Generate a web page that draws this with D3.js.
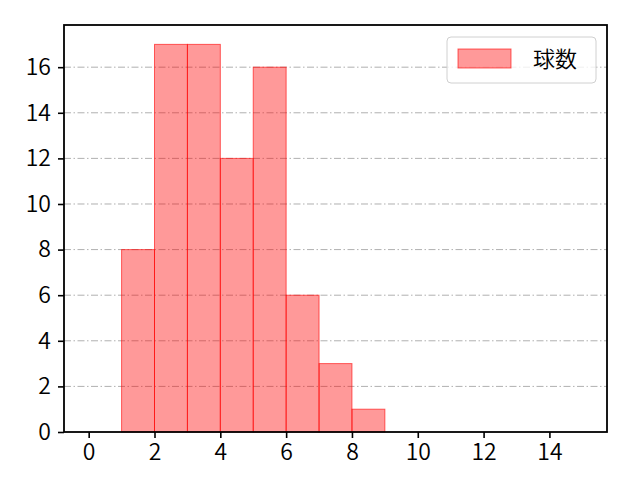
<!DOCTYPE html>
<html>
<head>
<meta charset="utf-8">
<script src="https://cdn.jsdelivr.net/npm/d3@7"></script>
<style>
  body { margin: 0; background: #fff; }
</style>
</head>
<body>
<div id="chart"></div>
<script>
// histogram bins (left edge) and counts
const binStarts = [1, 2, 3, 4, 5, 6, 7, 8];
const binWidth = 1;
const counts = [8, 17, 17, 12, 16, 6, 3, 1];
const xTicks = [0, 2, 4, 6, 8, 10, 12, 14];
const yTicks = [0, 2, 4, 6, 8, 10, 12, 14, 16];
const seriesName = "球数";

const FONT = "'Noto Sans CJK JP', 'Noto Sans', sans-serif";

const width = 640, height = 480;
const margin = {top: 25, right: 33, bottom: 48, left: 64};
const w = width - margin.left - margin.right;
const h = height - margin.top - margin.bottom;

const svg = d3.select("#chart").append("svg")
    .attr("width", width)
    .attr("height", height);

const g = svg.append("g")
    .attr("transform", `translate(${margin.left},${margin.top})`);

const x = d3.scaleLinear().domain([-0.75, 15.75]).range([0, w]);
const y = d3.scaleLinear().domain([0, 17.85]).range([h, 0]);

// grid (horizontal only)
g.append("g")
    .selectAll("line")
    .data(yTicks.filter(t => t > 0))
    .enter()
    .append("line")
    .attr("x1", 0)
    .attr("x2", w)
    .attr("y1", d => y(d))
    .attr("y2", d => y(d))
    .attr("stroke", "#b0b0b0")
    .attr("stroke-width", 1)
    .attr("stroke-dasharray", "7,2.5,1.5,2.5");

// bars
g.append("g")
    .selectAll("rect")
    .data(counts)
    .enter()
    .append("rect")
    .attr("x", (d, i) => x(binStarts[i]))
    .attr("y", d => y(d))
    .attr("width", (d, i) => x(binStarts[i] + binWidth) - x(binStarts[i]))
    .attr("height", d => h - y(d))
    .attr("fill", "rgba(255,0,0,0.4)")
    .attr("stroke", "rgba(255,0,0,0.6)")
    .attr("stroke-width", 1);

// axes
const xAxis = g.append("g")
    .attr("transform", `translate(0,${h})`)
    .call(d3.axisBottom(x).tickValues(xTicks).tickSize(6).tickPadding(6));
const yAxis = g.append("g")
    .call(d3.axisLeft(y).tickValues(yTicks).tickSize(6).tickPadding(7));

[xAxis, yAxis].forEach(a => {
    a.attr("font-size", 23).attr("font-family", FONT).attr("font-weight", 350);
    a.select(".domain").remove();
    a.selectAll(".tick line").attr("stroke", "#000").attr("stroke-width", 1.6);
    a.selectAll(".tick text").attr("fill", "#000");
});

// frame
g.append("rect")
    .attr("x", 0).attr("y", 0)
    .attr("width", w).attr("height", h)
    .attr("fill", "none")
    .attr("stroke", "#000")
    .attr("stroke-width", 1.8);

// legend
const lg = g.append("g").attr("transform", `translate(${w - 160},${12})`);
lg.append("rect")
    .attr("width", 149).attr("height", 46)
    .attr("rx", 4)
    .attr("fill", "rgba(255,255,255,0.8)")
    .attr("stroke", "#d0d0d0");
lg.append("rect")
    .attr("x", 11).attr("y", 12)
    .attr("width", 53).attr("height", 19)
    .attr("fill", "rgba(255,0,0,0.4)")
    .attr("stroke", "rgba(255,0,0,0.6)");
lg.append("text")
    .attr("x", 86).attr("y", 30)
    .attr("fill", "#000")
    .attr("font-family", FONT)
    .attr("font-weight", 350)
    .attr("font-size", 22)
    .text(seriesName);
</script>
</body>
</html>
